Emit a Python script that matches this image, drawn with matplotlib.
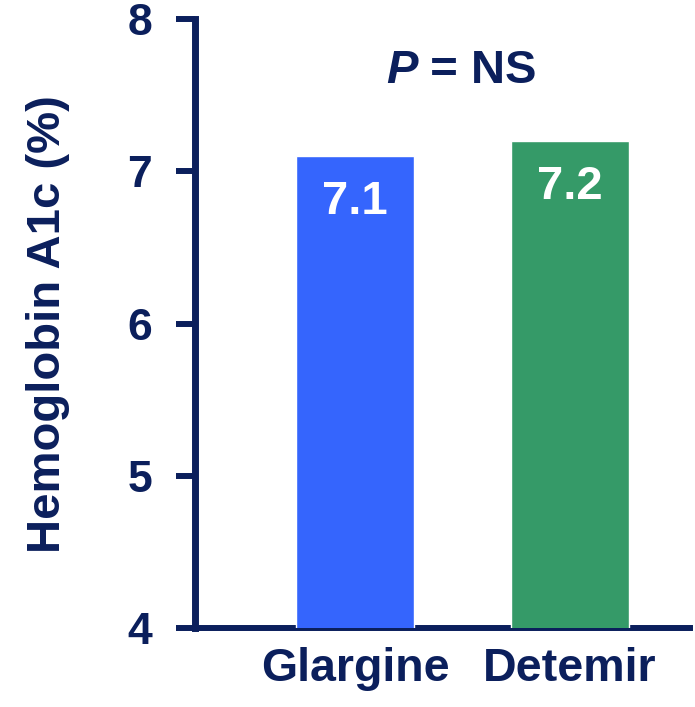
import matplotlib
matplotlib.use("Agg")
import matplotlib.pyplot as plt

# Mean HbA1c by treatment arm
categories = ["Glargine", "Detemir"]
hba1c = [7.1, 7.2]
value_labels = ["7.1", "7.2"]
y_ticks = [4, 5, 6, 7, 8]

navy = "#0b1f5c"
bar_colors = ["#3565fd", "#359a68"]

plt.rcParams["font.family"] = ["Liberation Sans", "DejaVu Sans"]
plt.rcParams["font.weight"] = "bold"

fig = plt.figure(figsize=(6.95, 7.07), dpi=100)
ax = fig.add_axes([0.2806, 0.1117, 0.712, 0.861])

x = list(range(len(categories)))
bars = ax.bar(x, hba1c, width=0.55, color=bar_colors, edgecolor="white",
              linewidth=1.0, zorder=3)

for xi, v, lab in zip(x, hba1c, value_labels):
    ax.text(xi, v - 0.3, lab, ha="center", va="center", color="white",
            fontsize=34, fontweight="bold", zorder=4)

ax.set_xlim(-0.744, 1.558)
ax.set_ylim(4, 8)
ax.set_yticks(y_ticks)
ax.set_yticklabels([str(t) for t in y_ticks])
ax.set_xticks(x)
ax.set_xticklabels(categories)

for s in ["top", "right"]:
    ax.spines[s].set_visible(False)
for s in ["left", "bottom"]:
    ax.spines[s].set_color(navy)
ax.spines["left"].set_linewidth(5)
ax.spines["bottom"].set_linewidth(4.3)

ax.tick_params(axis="y", direction="out", length=14, width=4.3, color=navy,
               labelsize=32, labelcolor=navy, pad=17)
ax.tick_params(axis="x", length=0, labelsize=33.5, labelcolor=navy, pad=14)
for lbl in ax.get_xticklabels() + ax.get_yticklabels():
    lbl.set_fontweight("bold")

ax.set_ylabel("Hemoglobin A1c (%)", fontsize=34, fontweight="bold",
              color=navy, labelpad=41)

ax.text(0.29, 7.66, "P", ha="right", va="center", fontsize=34,
        fontweight="bold", style="italic", color=navy)
ax.text(0.29, 7.66, " = NS", ha="left", va="center", fontsize=34,
        fontweight="bold", color=navy)

fig.savefig("out.png", dpi=100)
